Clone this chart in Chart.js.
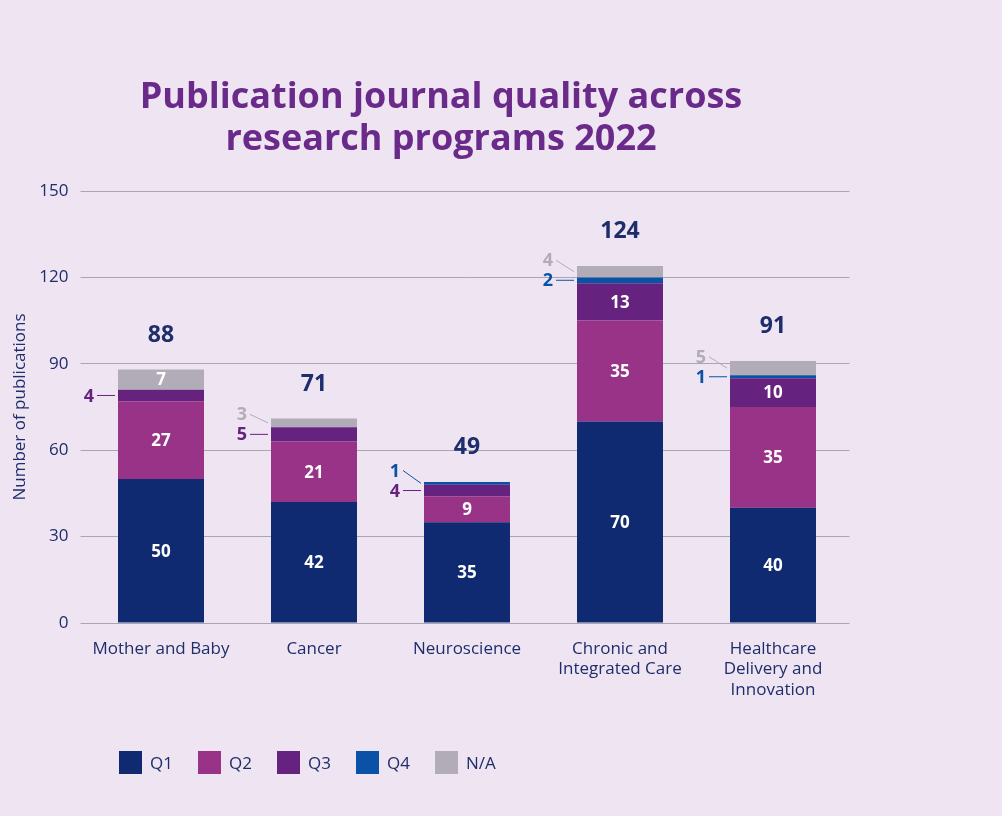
<!DOCTYPE html>
<html lang="en">
<head>
<meta charset="UTF-8">
<title>Publication journal quality across research programs 2022</title>
<style>
  body { margin: 0; background: #efe5f2; font-family: "Open Sans", sans-serif; }
  #wrap { position: relative; width: 1002px; height: 816px; overflow: hidden; }
  #title {
    position: absolute; left: 0; top: 74px; width: 882px;
    text-align: center; color: #6a2a8a; font-weight: 700;
    font-size: 36px; line-height: 42px;
  }
  #legend { position: absolute; left: 119px; top: 751px; display: flex; }
  .item { display: flex; align-items: center; width: 79px; font-size: 17px; color: #1e2d6b; }
  .swatch { width: 23px; height: 23px; margin-right: 8px; }
  canvas { position: absolute; left: 0; top: 0; }
</style>
</head>
<body>
<div id="wrap">
  <canvas id="chart" width="1002" height="816"></canvas>
  <div id="title">Publication journal quality across<br>research programs 2022</div>
  <div id="legend"></div>
</div>

<script src="https://cdn.jsdelivr.net/npm/chart.js"></script>
<script>
  // data
  const programs = [
    ['Mother and Baby'],
    ['Cancer'],
    ['Neuroscience'],
    ['Chronic and', 'Integrated Care'],
    ['Healthcare', 'Delivery and', 'Innovation']
  ];
  const q1 = [50, 42, 35, 70, 40];
  const q2 = [27, 21, 9, 35, 35];
  const q3 = [4, 5, 4, 13, 10];
  const q4 = [0, 0, 1, 2, 1];
  const na = [7, 3, 0, 4, 5];
  const seriesNames = ['Q1', 'Q2', 'Q3', 'Q4', 'N/A'];
  const seriesData = [q1, q2, q3, q4, na];
  const seriesColors = ['#0f2a70', '#983388', '#65237f', '#0a52a5', '#b1acb8'];
  const yMax = 150;
  const yStep = 30;

  const navy = '#1e2d6b';
  const gridColor = '#aaa5b2';
  const font = '"Open Sans", sans-serif';

  // build the html legend
  const legend = document.getElementById('legend');
  seriesNames.forEach((name, i) => {
    const item = document.createElement('div');
    item.className = 'item';
    const sw = document.createElement('span');
    sw.className = 'swatch';
    sw.style.background = seriesColors[i];
    item.appendChild(sw);
    item.appendChild(document.createTextNode(name));
    legend.appendChild(item);
  });

  // value labels: inside big segments, outside (with leader line) for small ones, total on top
  const segmentLabels = {
    id: 'segmentLabels',
    afterDatasetsDraw(chart) {
      const ctx = chart.ctx;
      ctx.save();
      for (let j = 0; j < chart.data.labels.length; j++) {
        let lastOutsideY = Infinity;
        let topY = Infinity;
        let barX = 0;
        let total = 0;
        chart.data.datasets.forEach((ds, i) => {
          const v = ds.data[j];
          const bar = chart.getDatasetMeta(i).data[j];
          total += v;
          if (!v) return;
          const mid = (bar.y + bar.base) / 2;
          topY = Math.min(topY, bar.y);
          barX = bar.x;
          if (v >= 6) {
            ctx.fillStyle = '#ffffff';
            ctx.font = '700 17px ' + font;
            ctx.textAlign = 'center';
            ctx.textBaseline = 'middle';
            ctx.fillText(String(v), bar.x, mid + 1);
          } else {
            let ly = mid;
            if (lastOutsideY - ly < 20) ly = lastOutsideY - 20;
            const left = bar.x - bar.width / 2;
            ctx.strokeStyle = ds.backgroundColor;
            ctx.lineWidth = 1;
            ctx.beginPath();
            ctx.moveTo(left - 21, ly);
            ctx.lineTo(left - 3, mid);
            ctx.stroke();
            ctx.fillStyle = ds.backgroundColor;
            ctx.font = '700 18px ' + font;
            ctx.textAlign = 'right';
            ctx.textBaseline = 'middle';
            ctx.fillText(String(v), left - 24, ly + 1);
            lastOutsideY = ly;
          }
        });
        ctx.fillStyle = navy;
        ctx.font = '700 23px ' + font;
        ctx.textAlign = 'center';
        ctx.textBaseline = 'alphabetic';
        ctx.fillText(String(total), barX, topY - 28);
      }
      ctx.restore();
    }
  };

  const ctx = document.getElementById('chart').getContext('2d');
  new Chart(ctx, {
    type: 'bar',
    data: {
      labels: programs,
      datasets: seriesNames.map((name, i) => ({
        label: name,
        data: seriesData[i],
        backgroundColor: seriesColors[i],
        borderWidth: 0,
        barPercentage: 0.562,
        categoryPercentage: 1
      }))
    },
    options: {
      responsive: false,
      animation: false,
      layout: { padding: { top: 191, left: 0, right: 152.5, bottom: 93 } },
      plugins: {
        legend: { display: false },
        tooltip: { enabled: false }
      },
      scales: {
        x: {
          stacked: true,
          grid: { display: false, drawTicks: false },
          border: { display: false },
          ticks: {
            color: navy,
            font: { family: font, size: 17, lineHeight: 1.2 },
            padding: 16,
            maxRotation: 0,
            autoSkip: false
          },
          afterFit(scale) { scale.height = 100; }
        },
        y: {
          stacked: true,
          min: 0,
          max: yMax,
          grid: { color: gridColor, lineWidth: 1, drawTicks: true, tickLength: 4 },
          border: { display: false },
          ticks: {
            stepSize: yStep,
            color: navy,
            font: { family: font, size: 17 },
            padding: 12
          },
          title: {
            display: true,
            text: 'Number of publications',
            color: navy,
            font: { family: font, size: 17 },
            padding: { top: 10, bottom: 0 }
          },
          afterFit(scale) { scale.width = 84.5; }
        }
      }
    },
    plugins: [segmentLabels]
  });
</script>
</body>
</html>
